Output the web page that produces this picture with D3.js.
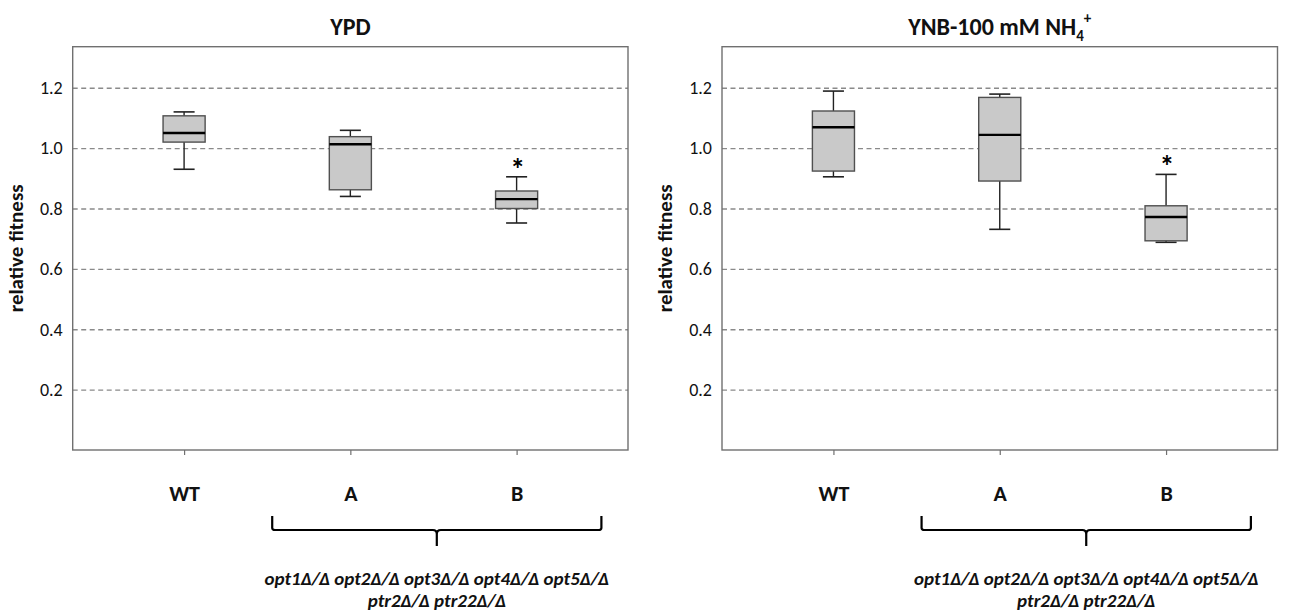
<!DOCTYPE html>
<html>
<head>
<meta charset="utf-8">
<script src="https://cdn.jsdelivr.net/npm/d3@7"></script>
<style>
  body { margin: 0; background: #fff; }
  svg { font-family: Carlito, Calibri, Lato, sans-serif; }
</style>
</head>
<body>
<script>
// Categories and tick values
var categories = ["WT", "A", "B"];
var yTicks = [0.2, 0.4, 0.6, 0.8, 1.0, 1.2];
var significant = [false, false, true];

// YPD panel, box plot stats per category
var ypdMin    = [0.93, 0.84, 0.752];
var ypdQ1     = [1.02, 0.862, 0.80];
var ypdMedian = [1.05, 1.013, 0.831];
var ypdQ3     = [1.107, 1.038, 0.858];
var ypdMax    = [1.12, 1.059, 0.905];

// YNB-100 mM NH4+ panel
var ynbMin    = [0.905, 0.731, 0.688];
var ynbQ1     = [0.924, 0.891, 0.693];
var ynbMedian = [1.069, 1.044, 0.772];
var ynbQ3     = [1.123, 1.168, 0.809];
var ynbMax    = [1.189, 1.179, 0.913];

var genotypeLines = ["opt1\u0394/\u0394 opt2\u0394/\u0394 opt3\u0394/\u0394 opt4\u0394/\u0394 opt5\u0394/\u0394",
                     "ptr2\u0394/\u0394 ptr22\u0394/\u0394"];

function makeRows(mins, q1s, meds, q3s, maxs) {
    return categories.map(function (c, i) {
        return { cat: c, min: mins[i], q1: q1s[i], med: meds[i], q3: q3s[i], max: maxs[i], sig: significant[i] };
    });
}

var svg = d3.select("body").append("svg")
    .attr("width", 1290)
    .attr("height", 616);

var plotTop = 46.7, plotBottom = 450;

var y = d3.scaleLinear()
    .domain([0, 1.336])
    .range([plotBottom, plotTop]);

function drawPanel(left, right, title, rows) {
    var g = svg.append("g");

    var x = d3.scalePoint()
        .domain(categories)
        .range([left, right])
        .padding(0.67);
    var step = x.step();
    var boxW = step * 0.253;

    // Gridlines and tick labels
    var yAxis = g.append("g")
        .attr("transform", "translate(" + left + ",0)")
        .call(d3.axisLeft(y).tickValues(yTicks).tickSize(-(right - left)).tickPadding(10)
            .tickFormat(d3.format(".1f")));
    yAxis.select(".domain").remove();
    yAxis.selectAll(".tick line")
        .attr("stroke", "#8a8a8a")
        .attr("stroke-width", 1.3)
        .attr("stroke-dasharray", "5,3.5");
    yAxis.selectAll(".tick text")
        .attr("fill", "#111")
        .style("font-size", "18px")
        .style("font-family", "Carlito, Calibri, Lato, sans-serif");

    // Frame
    g.append("rect")
        .attr("x", left)
        .attr("y", plotTop)
        .attr("width", right - left)
        .attr("height", plotBottom - plotTop)
        .attr("fill", "none")
        .attr("stroke", "#707070")
        .attr("stroke-width", 1.4);

    // X axis ticks and category labels
    var xAxis = g.append("g")
        .attr("transform", "translate(0," + plotBottom + ")")
        .call(d3.axisBottom(x).tickSize(5).tickPadding(30));
    xAxis.select(".domain").remove();
    xAxis.selectAll(".tick line").attr("stroke", "#707070").attr("stroke-width", 1.2);
    xAxis.selectAll(".tick text")
        .attr("fill", "#111")
        .style("font-size", "22px")
        .style("font-weight", "bold")
        .style("font-family", "Carlito, Calibri, Lato, sans-serif");

    // Whiskers
    var boxes = g.selectAll(".box")
        .data(rows)
        .enter().append("g")
        .attr("class", "box");

    boxes.append("line")
        .attr("x1", function (d) { return x(d.cat); })
        .attr("x2", function (d) { return x(d.cat); })
        .attr("y1", function (d) { return y(d.max); })
        .attr("y2", function (d) { return y(d.min); })
        .attr("stroke", "#222")
        .attr("stroke-width", 1.4);

    boxes.selectAll(".cap")
        .data(function (d) { return [{ cat: d.cat, v: d.max }, { cat: d.cat, v: d.min }]; })
        .enter().append("line")
        .attr("class", "cap")
        .attr("x1", function (d) { return x(d.cat) - boxW / 4; })
        .attr("x2", function (d) { return x(d.cat) + boxW / 4; })
        .attr("y1", function (d) { return y(d.v); })
        .attr("y2", function (d) { return y(d.v); })
        .attr("stroke", "#222")
        .attr("stroke-width", 1.6);

    boxes.append("rect")
        .attr("x", function (d) { return x(d.cat) - boxW / 2; })
        .attr("y", function (d) { return y(d.q3); })
        .attr("width", boxW)
        .attr("height", function (d) { return y(d.q1) - y(d.q3); })
        .attr("fill", "#c9c9c9")
        .attr("stroke", "#505050")
        .attr("stroke-width", 1.4);

    boxes.append("line")
        .attr("x1", function (d) { return x(d.cat) - boxW / 2; })
        .attr("x2", function (d) { return x(d.cat) + boxW / 2; })
        .attr("y1", function (d) { return y(d.med); })
        .attr("y2", function (d) { return y(d.med); })
        .attr("stroke", "#000")
        .attr("stroke-width", 2.4);

    // Significance stars
    boxes.filter(function (d) { return d.sig; })
        .append("text")
        .attr("x", function (d) { return x(d.cat) + 1; })
        .attr("y", function (d) { return y(d.max) + 2; })
        .attr("text-anchor", "middle")
        .style("font-size", "30px")
        .style("font-weight", "bold")
        .text("*");

    // Title
    var t = g.append("text")
        .attr("x", (left + right) / 2)
        .attr("y", 35)
        .attr("text-anchor", "middle")
        .style("font-size", "24px")
        .style("font-weight", "bold")
        .attr("fill", "#111");
    t.append("tspan").text(title.main);
    if (title.sub) {
        t.append("tspan").attr("dy", 6).style("font-size", "15px").text(title.sub);
        t.append("tspan").attr("dy", -18).style("font-size", "15px").text(title.sup);
    }

    // Y axis title
    g.append("text")
        .attr("transform", "translate(" + (left - 50) + "," + ((plotTop + plotBottom) / 2) + ") rotate(-90)")
        .attr("text-anchor", "middle")
        .style("font-size", "21px")
        .style("font-weight", "bold")
        .attr("fill", "#111")
        .text("relative fitness");

    // Bracket under the mutants
    var bx0 = x("A") - step * 0.47,
        bx1 = x("B") + step * 0.51,
        bmid = (bx0 + bx1) / 2,
        byTop = 516, byLine = 530, byStem = 546;
    g.append("path")
        .attr("d", "M" + bx0 + "," + byTop + " L" + bx0 + "," + (byLine - 2) +
            " Q" + bx0 + "," + byLine + " " + (bx0 + 3) + "," + byLine +
            " L" + (bmid - 4) + "," + byLine +
            " Q" + bmid + "," + byLine + " " + bmid + "," + (byLine + 4) +
            " L" + bmid + "," + byStem +
            " M" + bmid + "," + (byLine + 4) +
            " Q" + bmid + "," + byLine + " " + (bmid + 4) + "," + byLine +
            " L" + (bx1 - 3) + "," + byLine +
            " Q" + bx1 + "," + byLine + " " + bx1 + "," + (byLine - 2) +
            " L" + bx1 + "," + byTop)
        .attr("fill", "none")
        .attr("stroke", "#000")
        .attr("stroke-width", 2.2);

    g.selectAll(".geno")
        .data(genotypeLines)
        .enter().append("text")
        .attr("class", "geno")
        .attr("x", bmid)
        .attr("y", function (d, i) { return 585 + i * 22; })
        .attr("text-anchor", "middle")
        .style("font-size", "19px")
        .style("font-weight", "bold")
        .style("font-style", "italic")
        .attr("fill", "#111")
        .text(function (d) { return d; });
}

drawPanel(72.7, 628, { main: "YPD" }, makeRows(ypdMin, ypdQ1, ypdMedian, ypdQ3, ypdMax));
drawPanel(722, 1277.5, { main: "YNB-100 mM NH", sub: "4", sup: "+" }, makeRows(ynbMin, ynbQ1, ynbMedian, ynbQ3, ynbMax));
</script>
</body>
</html>
